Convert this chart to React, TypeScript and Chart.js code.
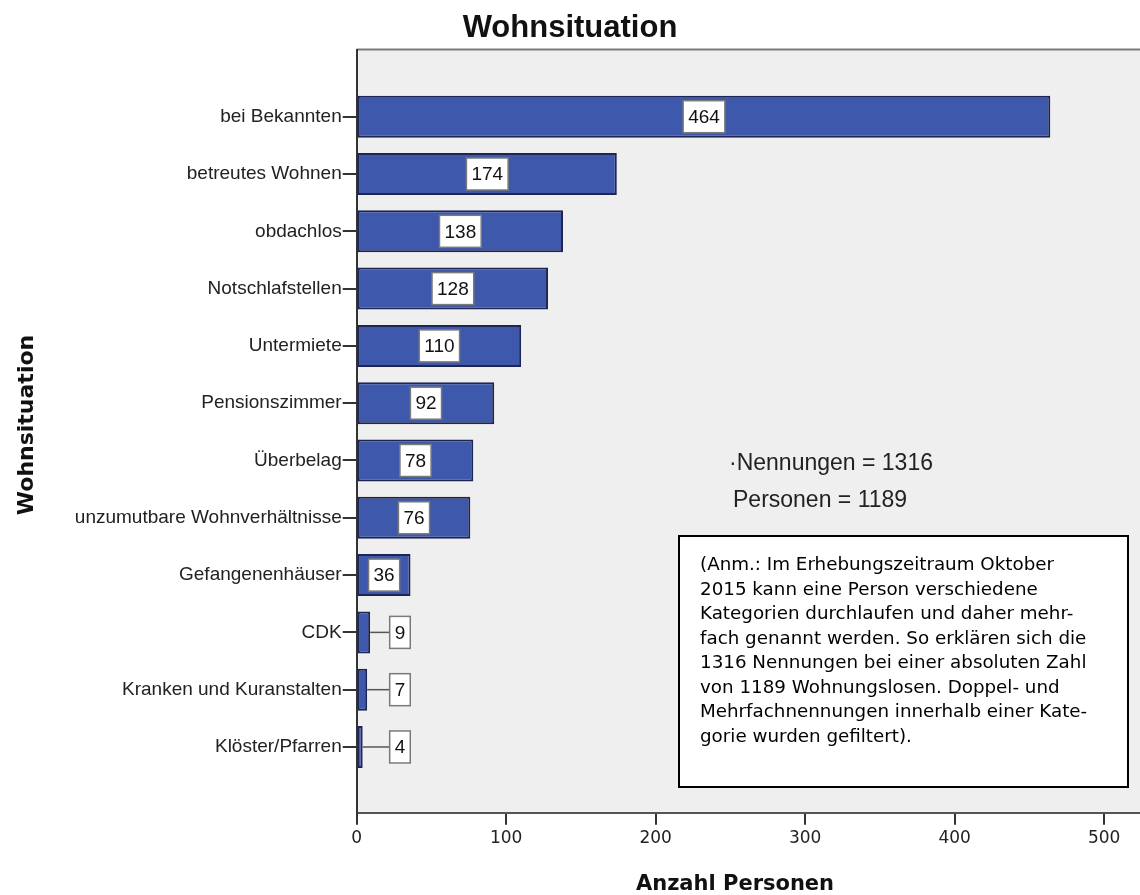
import React, { useEffect, useRef } from "react";
import { Chart, registerables } from "chart.js";

Chart.register(...registerables);

// ---- data ----
const categories = [
  "bei Bekannten",
  "betreutes Wohnen",
  "obdachlos",
  "Notschlafstellen",
  "Untermiete",
  "Pensionszimmer",
  "Überbelag",
  "unzumutbare Wohnverhältnisse",
  "Gefangenenhäuser",
  "CDK",
  "Kranken und Kuranstalten",
  "Klöster/Pfarren",
];
const counts = [464, 174, 138, 128, 110, 92, 78, 76, 36, 9, 7, 4];
const xTickValues = [0, 100, 200, 300, 400, 500];

const chartTitle = "Wohnsituation";
const xAxisTitle = "Anzahl Personen";
const yAxisTitle = "Wohnsituation";
const statLines = ["·Nennungen = 1316", "Personen = 1189"];
const noteLines = [
  "(Anm.: Im Erhebungszeitraum Oktober",
  "2015 kann eine Person verschiedene",
  "Kategorien durchlaufen und daher mehr-",
  "fach genannt werden. So erklären sich die",
  "1316 Nennungen bei einer absoluten Zahl",
  "von 1189 Wohnungslosen. Doppel- und",
  "Mehrfachnennungen innerhalb einer Kate-",
  "gorie wurden gefiltert).",
];

const W = 1140;
const H = 895;

const backgroundPlugin = {
  id: "plotBackground",
  beforeDraw(chart: any) {
    const { ctx, chartArea: a } = chart;
    ctx.save();
    ctx.fillStyle = "#efefef";
    ctx.fillRect(a.left, a.top, a.right - a.left, a.bottom - a.top);
    ctx.strokeStyle = "#7a7a7a";
    ctx.lineWidth = 2;
    ctx.beginPath();
    ctx.moveTo(a.left, a.top);
    ctx.lineTo(a.right, a.top);
    ctx.stroke();
    ctx.restore();
  },
};

const valueLabelPlugin = {
  id: "valueLabels",
  afterDatasetsDraw(chart: any) {
    const { ctx, chartArea: a } = chart;
    const meta = chart.getDatasetMeta(0);
    ctx.save();
    ctx.font = '19px "Liberation Sans", Arial, sans-serif';
    ctx.textAlign = "center";
    ctx.textBaseline = "middle";
    meta.data.forEach((bar: any, i: number) => {
      const text = String(counts[i]);
      const tw = ctx.measureText(text).width;
      const bw = tw + 10;
      const bh = 32;
      const start = bar.base;
      const end = bar.x;
      const cy = bar.y;
      let cx: number;
      if (end - start >= bw + 8) {
        cx = (start + end) / 2;
      } else {
        const left = a.left + 33;
        cx = left + bw / 2;
        ctx.strokeStyle = "#555";
        ctx.lineWidth = 1.5;
        ctx.beginPath();
        ctx.moveTo(end, cy);
        ctx.lineTo(left, cy);
        ctx.stroke();
      }
      ctx.fillStyle = "#ffffff";
      ctx.fillRect(cx - bw / 2, cy - bh / 2, bw, bh);
      ctx.strokeStyle = "#7a7a7a";
      ctx.lineWidth = 1.5;
      ctx.strokeRect(cx - bw / 2, cy - bh / 2, bw, bh);
      ctx.fillStyle = "#111";
      ctx.fillText(text, cx, cy + 1);
    });
    ctx.restore();
  },
};

const textPlugin = {
  id: "extraTexts",
  afterDraw(chart: any) {
    const { ctx } = chart;
    ctx.save();
    ctx.fillStyle = "#111";
    ctx.textBaseline = "alphabetic";

    // title
    ctx.textAlign = "center";
    ctx.font = 'bold 31px "Liberation Sans", Arial, sans-serif';
    ctx.fillText(chartTitle, 570, 37);

    // x axis title
    ctx.font = 'bold 21px "DejaVu Sans", Verdana, sans-serif';
    ctx.fillText(xAxisTitle, 735, 890);

    // y axis title
    ctx.save();
    ctx.translate(33, 425);
    ctx.rotate(-Math.PI / 2);
    ctx.font = 'bold 22px "DejaVu Sans", Verdana, sans-serif';
    ctx.fillText(yAxisTitle, 0, 0);
    ctx.restore();

    // statistics
    ctx.textAlign = "left";
    ctx.fillStyle = "#222";
    ctx.font = '23px "Liberation Sans", Arial, sans-serif';
    ctx.fillText(statLines[0], 729, 469.5);
    ctx.fillText(statLines[1], 733, 506.5);

    // note box
    const bx = 679, by = 536, bw = 449, bh = 251;
    ctx.fillStyle = "#ffffff";
    ctx.fillRect(bx, by, bw, bh);
    ctx.strokeStyle = "#000";
    ctx.lineWidth = 2;
    ctx.strokeRect(bx, by, bw, bh);
    ctx.fillStyle = "#000";
    ctx.font = '18.3px "DejaVu Sans", Verdana, sans-serif';
    noteLines.forEach((line, i) => {
      ctx.fillText(line, 700, 570 + i * 24.5);
    });
    ctx.restore();
  },
};

export default function App() {
  const canvasRef = useRef<HTMLCanvasElement | null>(null);

  useEffect(() => {
    const canvas = canvasRef.current;
    if (!canvas) return;
    const chart = new Chart(canvas, {
      type: "bar",
      data: {
        datasets: [
          {
            data: counts.map((v, i) => ({ x: v, y: i })),
            backgroundColor: "#3e58ab",
            borderColor: "#1f2552",
            borderWidth: 2,
            borderSkipped: false,
            barPercentage: 0.733,
            categoryPercentage: 1,
          },
        ],
      },
      options: {
        indexAxis: "y",
        responsive: false,
        animation: false,
        devicePixelRatio: 1,
        layout: { padding: { top: 49.5, left: 0, right: 0, bottom: 0 } },
        plugins: {
          legend: { display: false },
          tooltip: { enabled: false },
          title: { display: false },
        },
        scales: {
          x: {
            type: "linear",
            position: "bottom",
            min: 0,
            max: 524,
            afterBuildTicks: (s: any) => {
              s.ticks = xTickValues.map((v) => ({ value: v }));
            },
            afterFit: (s: any) => {
              s.height = 82.3;
            },
            grid: {
              drawOnChartArea: false,
              drawTicks: true,
              tickLength: 12,
              color: "#333",
              lineWidth: 2,
            },
            border: { display: true, color: "#555", width: 2 },
            ticks: {
              font: { family: '"DejaVu Sans", Verdana, sans-serif', size: 17 },
              color: "#222",
              padding: 4,
              maxRotation: 0,
            },
          },
          y: {
            type: "linear",
            reverse: true,
            offset: false,
            min: -1.173,
            max: 12.147,
            afterBuildTicks: (s: any) => {
              s.ticks = categories.map((_, i) => ({ value: i }));
            },
            afterFit: (s: any) => {
              s.width = 356.7;
            },
            grid: {
              offset: false,
              drawOnChartArea: false,
              drawTicks: true,
              tickLength: 14,
              color: "#333",
              lineWidth: 2,
            },
            border: { display: true, color: "#333", width: 2 },
            ticks: {
              autoSkip: false,
              callback: (v: any) => categories[v as number] ?? "",
              font: { family: '"Liberation Sans", Arial, sans-serif', size: 19 },
              color: "#222",
              padding: 1,
            },
          },
        },
      } as any,
      plugins: [backgroundPlugin, valueLabelPlugin, textPlugin],
    });
    return () => chart.destroy();
  }, []);

  return (
    <div style={{ position: "fixed", left: 0, top: 0, width: W, height: H, background: "#fff" }}>
      <canvas ref={canvasRef} width={W} height={H} style={{ display: "block", width: W, height: H }} />
    </div>
  );
}
